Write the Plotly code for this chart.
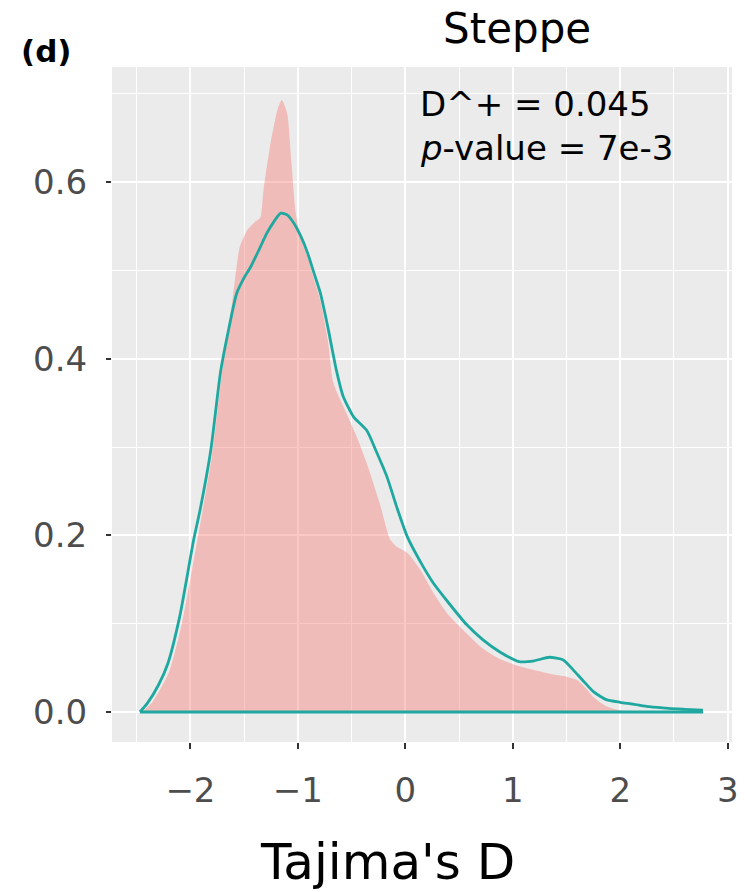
import plotly.graph_objects as go

# Observed density (teal outline)
teal_x = [-2.47, -2.40, -2.30, -2.21, -2.10, -1.97, -1.91, -1.81, -1.72, -1.65, -1.57, -1.50,
          -1.44, -1.36, -1.29, -1.22, -1.16, -1.10, -1.04, -0.97, -0.91, -0.85, -0.79, -0.72,
          -0.64, -0.58, -0.48, -0.36, -0.27, -0.17, -0.08, 0.02, 0.15, 0.26, 0.40, 0.57, 0.72,
          0.88, 1.06, 1.20, 1.34, 1.47, 1.56, 1.65, 1.75, 1.87, 2.00, 2.12, 2.27, 2.45, 2.60, 2.77]
teal_y = [0.0, 0.010, 0.030, 0.055, 0.108, 0.195, 0.229, 0.297, 0.385, 0.430, 0.474, 0.492,
          0.504, 0.524, 0.542, 0.556, 0.565, 0.563, 0.554, 0.538, 0.520, 0.497, 0.474, 0.435,
          0.386, 0.358, 0.334, 0.319, 0.295, 0.266, 0.232, 0.198, 0.168, 0.146, 0.124, 0.099, 0.082,
          0.068, 0.057, 0.058, 0.062, 0.059, 0.048, 0.036, 0.023, 0.014, 0.011, 0.009, 0.006, 0.004, 0.003, 0.002]

# Reference density (pink fill)
pink_x = [-2.45, -2.35, -2.20, -2.08, -1.95, -1.80, -1.70, -1.62, -1.54, -1.47, -1.40, -1.35,
          -1.32, -1.26, -1.19, -1.15, -1.10, -1.06, -1.02, -0.97, -0.91, -0.85, -0.79, -0.72,
          -0.67, -0.55, -0.45, -0.36, -0.24, -0.14, -0.08, 0.02, 0.14, 0.26, 0.40, 0.57, 0.72,
          0.88, 1.03, 1.18, 1.35, 1.50, 1.60, 1.68, 1.75, 1.85, 1.93, 2.05, 2.20]
pink_y = [0.0, 0.012, 0.045, 0.100, 0.185, 0.290, 0.390, 0.455, 0.527, 0.546, 0.555, 0.560,
          0.591, 0.640, 0.682, 0.693, 0.678, 0.622, 0.565, 0.535, 0.515, 0.490, 0.465, 0.420,
          0.373, 0.339, 0.311, 0.282, 0.237, 0.195, 0.187, 0.180, 0.161, 0.135, 0.110, 0.089, 0.072,
          0.060, 0.053, 0.048, 0.043, 0.040, 0.036, 0.027, 0.017, 0.008, 0.004, 0.001, 0.0]

x_ticks = [-2, -1, 0, 1, 2, 3]
x_ticklabels = ["\u22122", "\u22121", "0", "1", "2", "3"]
y_ticks = [0.0, 0.2, 0.4, 0.6]
y_ticklabels = ["0.0", "0.2", "0.4", "0.6"]

FONT = "DejaVu Sans"
TEAL = "#1FA8A0"

fig = go.Figure()
fig.add_trace(go.Scatter(
    x=pink_x, y=pink_y, mode="lines", fill="tozeroy",
    fillcolor="rgba(248,118,109,0.40)",
    line=dict(width=0, color="rgba(0,0,0,0)", shape="spline", smoothing=0.6),
    hoverinfo="skip", showlegend=False))
fig.add_trace(go.Scatter(
    x=teal_x, y=teal_y, mode="lines",
    line=dict(color=TEAL, width=2.8, shape="spline", smoothing=0.6),
    hoverinfo="skip", showlegend=False))
fig.add_trace(go.Scatter(
    x=[teal_x[0], teal_x[-1]], y=[0.0, 0.0], mode="lines",
    line=dict(color=TEAL, width=2.8), hoverinfo="skip", showlegend=False))

L, R, T, B = 112, 13, 67, 150
W, H = 745, 892
pw, ph = W - L - R, H - T - B

def px(xp):
    return (xp - L) / pw

def py(yp):
    return (H - B - yp) / ph

fig.update_layout(
    width=W, height=H,
    margin=dict(l=L, r=R, t=T, b=B, pad=0, autoexpand=False),
    paper_bgcolor="white", plot_bgcolor="#EBEBEB",
    font=dict(family=FONT, color="#4D4D4D"),
    xaxis=dict(range=[-2.73, 3.04], tickvals=x_ticks, ticktext=x_ticklabels,
               showgrid=True, gridcolor="white", gridwidth=2, zeroline=False,
               ticks="outside", ticklen=6, tickwidth=1.5, tickcolor="#333333",
               tickfont=dict(size=34, color="#4D4D4D", family=FONT),
               ticklabelstandoff=12, automargin=False,
               minor=dict(tickvals=[-2.5, -1.5, -0.5, 0.5, 1.5, 2.5], showgrid=True,
                          gridcolor="white", gridwidth=1),
               showline=False, fixedrange=True),
    yaxis=dict(range=[-0.034, 0.7305], tickvals=y_ticks, ticktext=y_ticklabels,
               showgrid=True, gridcolor="white", gridwidth=2, zeroline=False,
               ticks="outside", ticklen=5, tickwidth=1.5, tickcolor="#333333",
               tickfont=dict(size=34, color="#4D4D4D", family=FONT),
               ticklabelstandoff=12, automargin=False,
               minor=dict(tickvals=[0.1, 0.3, 0.5, 0.7], showgrid=True,
                          gridcolor="white", gridwidth=1),
               showline=False, fixedrange=True),
    annotations=[
        dict(text="Steppe", x=px(517), y=py(28), xref="paper", yref="paper",
             xanchor="center", yanchor="middle", showarrow=False,
             font=dict(size=42, color="black", family=FONT)),
        dict(text="<b>(d)</b>", x=px(46), y=py(51), xref="paper", yref="paper",
             xanchor="center", yanchor="middle", showarrow=False,
             font=dict(size=31, color="black", family=FONT)),
        dict(text="Tajima's D", x=px(387), y=py(862), xref="paper", yref="paper",
             xanchor="center", yanchor="middle", showarrow=False,
             font=dict(size=50, color="black", family=FONT)),
        dict(text="D^+ = 0.045", x=px(418), y=py(104), xref="paper", yref="paper",
             xanchor="left", yanchor="middle", showarrow=False,
             font=dict(size=34, color="black", family=FONT)),
        dict(text="<i>p</i>-value = 7e-3", x=px(418), y=py(148), xref="paper", yref="paper",
             xanchor="left", yanchor="middle", showarrow=False,
             font=dict(size=34, color="black", family=FONT)),
    ],
)

fig.write_html("out.html")
